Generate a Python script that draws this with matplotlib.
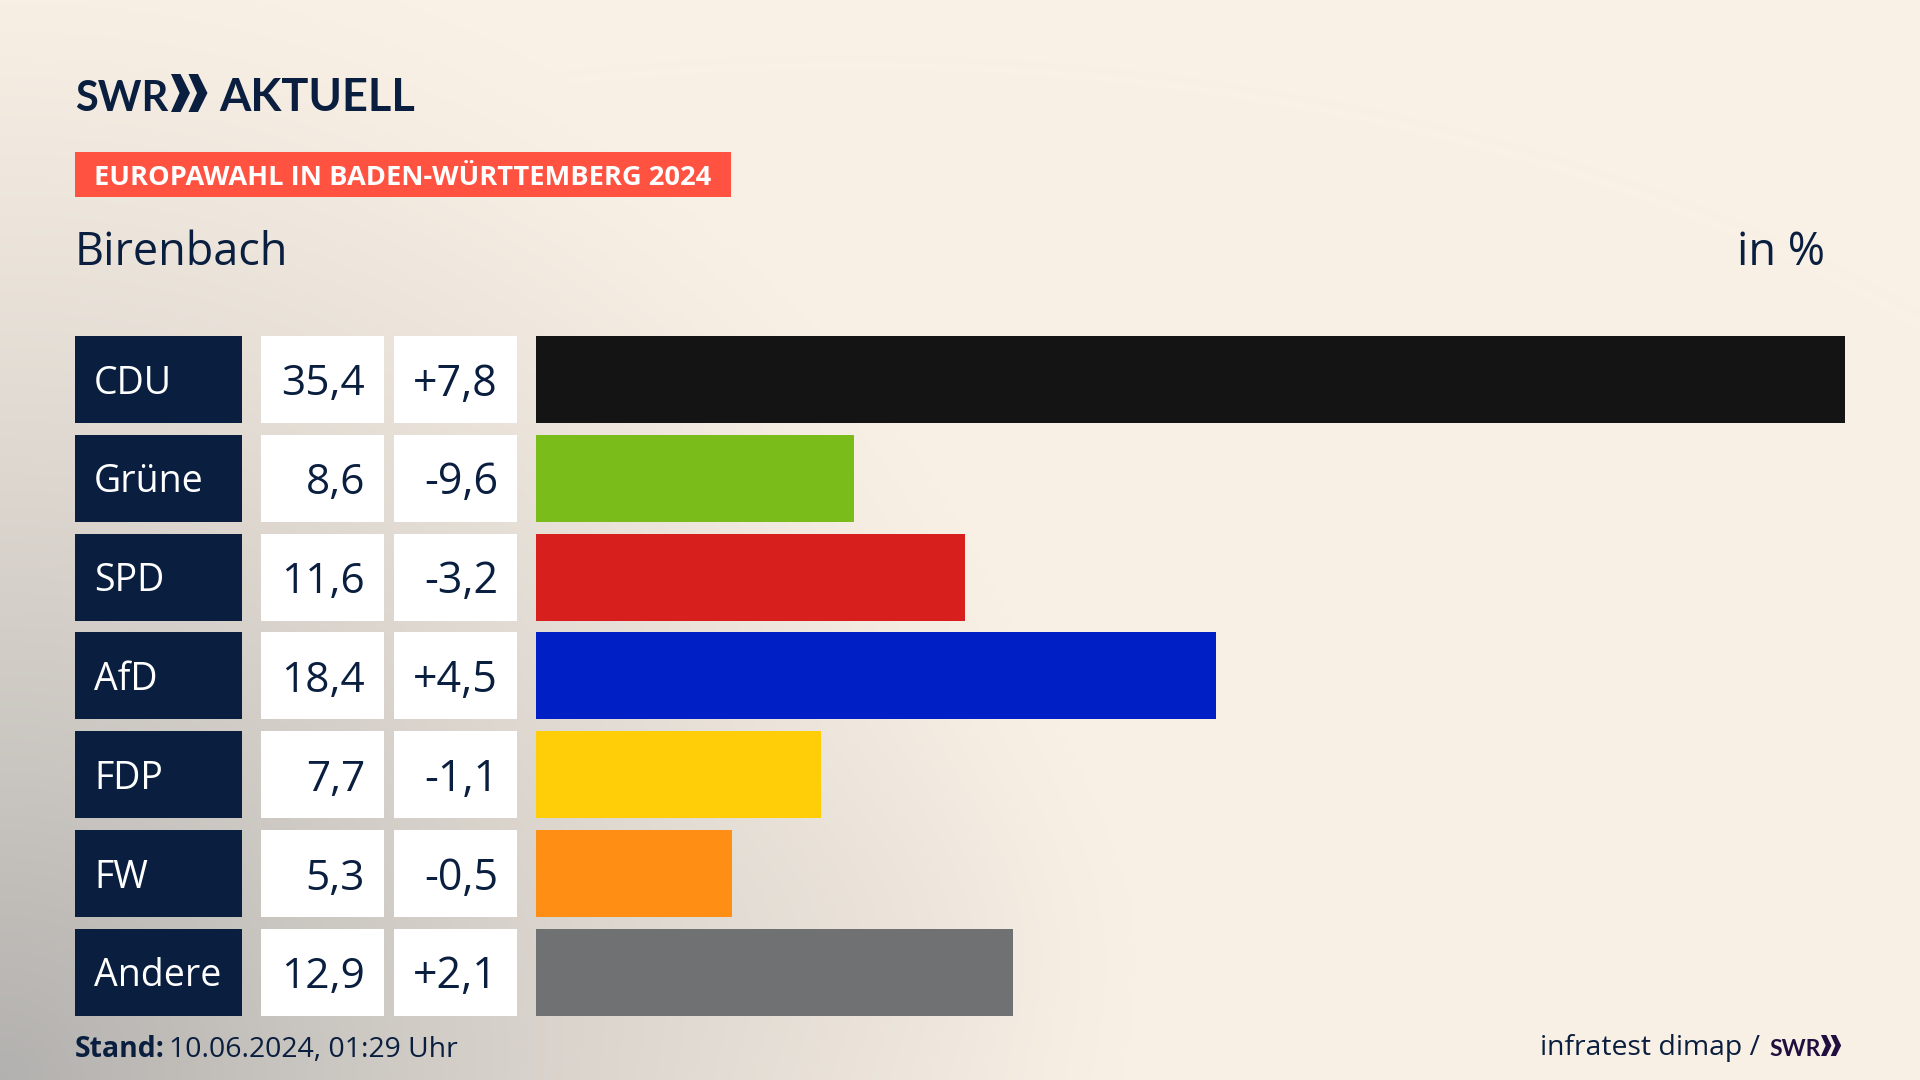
#!/usr/bin/env python3
"""SWR Europawahl result card for Birenbach."""

import matplotlib
matplotlib.use("Agg")
import matplotlib.pyplot as plt
import numpy as np
from matplotlib.patches import Polygon, Rectangle

PARTIES = ["CDU", "Grüne", "SPD", "AfD", "FDP", "FW", "Andere"]
VALUES = [35.4, 8.6, 11.6, 18.4, 7.7, 5.3, 12.9]
CHANGES = ["+7,8", "-9,6", "-3,2", "+4,5", "-1,1", "-0,5", "+2,1"]
COLORS = ["#141414", "#7abc19", "#d7201e", "#0020c6", "#ffce08", "#ff8f14", "#707173"]

NAVY = "#0a1f3f"
FONT = "Open Sans"
LOGO_FONT = "Lato"

ROW_TOP = 336
ROW_H = 87
ROW_STEP = 98.83

plt.rcParams["font.family"] = [FONT, "DejaVu Sans"]

fig = plt.figure(figsize=(19.2, 10.8), dpi=100)

# page in pixel coordinates
page = fig.add_axes([0, 0, 1, 1])
page.set_xlim(0, 1920)
page.set_ylim(1080, 0)
page.axis("off")

# cream background, grey haze from the lower left corner
yy, xx = np.mgrid[0:1080, 0:1920]
corner = np.clip(1 - np.hypot(xx / 1150, (1080 - yy) / 1150), 0, 1) ** 1.2
blob = np.exp(-(((xx - 850) / 260) ** 2 + ((yy - 930) / 150) ** 2))
shade = np.clip(corner * 0.66 + blob * 0.035, 0, 1)[..., None]
cream = np.array([0xfa, 0xf1, 0xe6]) / 255
grey = np.array([0x8e, 0x90, 0x92]) / 255
page.imshow(cream * (1 - shade) + grey * shade, extent=(0, 1920, 1080, 0), aspect="auto", zorder=0)


def chevrons(x, y, h, color):
    w = h * 0.5
    for dx in (0, h * 0.46):
        page.add_patch(Polygon(
            [(x + dx, y), (x + dx + w * 0.5, y), (x + dx + w, y + h / 2),
             (x + dx + w * 0.5, y + h), (x + dx, y + h), (x + dx + w * 0.45, y + h / 2)],
            color=color, lw=0, zorder=3))


# logo
page.text(75, 111, "SWR", fontsize=30, fontweight="bold", family=LOGO_FONT, color=NAVY, va="baseline", zorder=3)
chevrons(171, 74, 38, NAVY)
page.text(219, 111, "AKTUELL", fontsize=32.5, fontweight="bold", family=LOGO_FONT, color=NAVY, va="baseline", zorder=3)

# header
page.add_patch(Rectangle((75, 152), 656, 45, color="#ff5240", lw=0, zorder=2))
page.text(94, 185, "EUROPAWAHL IN BADEN-WÜRTTEMBERG 2024", fontsize=19.6, fontweight="bold",
          color="white", va="baseline", zorder=3)
page.text(75, 265, "Birenbach", fontsize=32.4, color=NAVY, va="baseline", zorder=3)
page.text(1825, 265, "in %", fontsize=32.4, color=NAVY, ha="right", va="baseline", zorder=3)

# table cells
for i, (party, value, change) in enumerate(zip(PARTIES, VALUES, CHANGES)):
    top = ROW_TOP + i * ROW_STEP
    mid = top + ROW_H / 2
    page.add_patch(Rectangle((75, top), 167, ROW_H, color=NAVY, lw=0, zorder=2))
    page.add_patch(Rectangle((261, top), 123, ROW_H, color="white", lw=0, zorder=2))
    page.add_patch(Rectangle((394, top), 123, ROW_H, color="white", lw=0, zorder=2))
    page.text(94, mid + 14, party, fontsize=27, color="white", va="baseline", zorder=3)
    page.text(365, mid + 16, f"{value:.1f}".replace(".", ","), fontsize=30.5, color=NAVY,
              ha="right", va="baseline", zorder=3)
    page.text(498, mid + 16, change, fontsize=31, color=NAVY, ha="right", va="baseline", zorder=3)

# bars
bar_top = ROW_TOP - (ROW_STEP - ROW_H) / 2
bar_h = 7 * ROW_STEP
ax = fig.add_axes([536 / 1920, 1 - (bar_top + bar_h) / 1080, 1309 / 1920, bar_h / 1080])
ax.patch.set_alpha(0)
ax.barh(range(len(PARTIES)), VALUES, height=ROW_H / ROW_STEP, color=COLORS)
ax.set_xlim(0, max(VALUES))
ax.set_ylim(len(PARTIES) - 0.5, -0.5)
ax.axis("off")

# footer
page.text(75, 1057, "Stand:", fontsize=20.4, fontweight="bold", color=NAVY, va="baseline", zorder=3)
page.text(169, 1057, "10.06.2024, 01:29 Uhr", fontsize=20.4, color=NAVY, va="baseline", zorder=3)
page.text(1760, 1055, "infratest dimap /", fontsize=20.4, color=NAVY, ha="right", va="baseline", zorder=3)
page.text(1769, 1056, "SWR", fontsize=16.5, fontweight="bold", family=LOGO_FONT, color="#1f1040", va="baseline", zorder=3)
chevrons(1821, 1035, 21, "#1f1040")

fig.savefig("out.png", dpi=100)
